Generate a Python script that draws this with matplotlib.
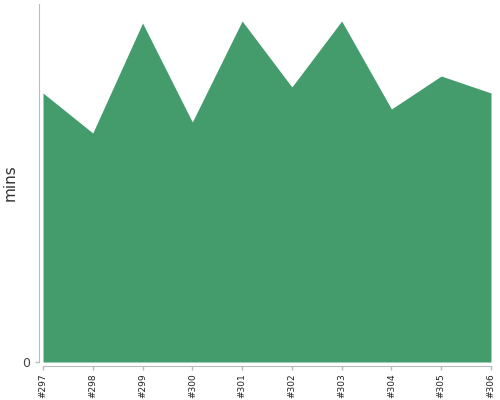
import numpy as np
import matplotlib
matplotlib.use("Agg")
import matplotlib.pyplot as plt

builds = ["#297", "#298", "#299", "#300", "#301", "#302", "#303", "#304", "#305", "#306"]
minutes = [26.9, 22.9, 33.9, 24.0, 34.1, 27.5, 34.1, 25.3, 28.6, 26.9]

fig = plt.figure(figsize=(5, 4), dpi=100)
ax = fig.add_axes([43 / 500, 38 / 400, 448 / 500, 358 / 400])

# spine offsets first: set_position resets the ticks
for side in ["top", "right"]:
    ax.spines[side].set_visible(False)
for side in ["left", "bottom"]:
    ax.spines[side].set_color("#bbbbbb")
    ax.spines[side].set_position(("outward", 3))

x = np.arange(len(builds))
ax.fill_between(x, minutes, 0, color="#449c6c", linewidth=0)

ax.set_xlim(0, len(builds) - 1)
ax.set_ylim(0, 35.8)
ax.set_xticks(x)
ax.set_xticklabels(builds, rotation=90, fontsize=6.5)
ax.set_yticks([0])
ax.set_yticklabels(["0"], fontsize=9)
ax.set_ylabel("mins", fontsize=11, color="#333333", labelpad=3)

ax.tick_params(colors="#bbbbbb", length=3, width=1, labelcolor="#222222")
ax.tick_params(axis="x", pad=2)
ax.tick_params(axis="y", labelcolor="#444444")

fig.savefig("out.png", dpi=100)
